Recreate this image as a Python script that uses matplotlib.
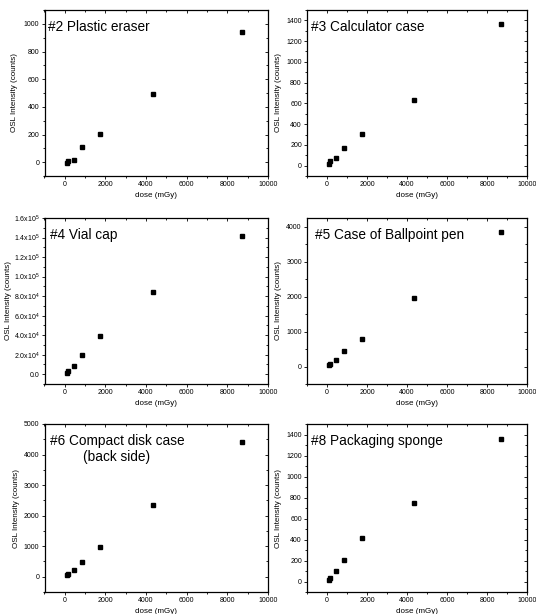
import matplotlib
matplotlib.use("Agg")
import matplotlib.pyplot as plt
from matplotlib.ticker import MultipleLocator, FuncFormatter

plt.rcParams["font.family"] = ["Liberation Sans", "DejaVu Sans"]
plt.rcParams["mathtext.fontset"] = "custom"
plt.rcParams["mathtext.rm"] = "Liberation Sans"
plt.rcParams["mathtext.it"] = "Liberation Sans"

# dose steps (mGy)
dose = [87, 174, 435, 870, 1740, 4350, 8700]

# OSL intensity (counts) for each material
eraser = [-5, 7, 17, 108, 206, 492, 942]
calculator = [16, 45, 75, 171, 303, 634, 1368]
vial_cap = [1000, 3100, 8900, 19500, 39100, 84400, 141300]
ballpoint = [48, 86, 181, 439, 793, 1968, 3849]
cd_case = [55, 77, 210, 498, 985, 2334, 4414]
sponge = [16, 29, 100, 202, 411, 748, 1358]

titles = ["#2 Plastic eraser", "#3 Calculator case", "#4 Vial cap",
          "#5 Case of Ballpoint pen", "#6 Compact disk case\n(back side)",
          "#8 Packaging sponge"]
series = [eraser, calculator, vial_cap, ballpoint, cd_case, sponge]
y_limits = [(-100, 1100), (-100, 1500), (-1e4, 1.6e5),
            (-500, 4250), (-500, 5000), (-100, 1500)]
y_major = [200, 200, 2e4, 1000, 1000, 200]

W, H = 536, 614
fig = plt.figure(figsize=(W / 100, H / 100), dpi=100)

# axes boxes in pixels: (left, top, right, bottom)
cols = [(44.5, 268), (307, 527)]
rows = [(10, 176), (218, 384), (424, 592)]
title_x = [4, 4, 6, 8, 5, 4]
# right edge (pixels) of each rotated y-axis label
ylabel_px = [18.5, 281.5, 12.5, 281.5, 20, 281.5]


def sci_fmt(v, pos):
    if abs(v) < 1e-9:
        return "0.0"
    e = 0
    m = v
    while abs(m) >= 10:
        m /= 10
        e += 1
    return "%.1fx10$^{%d}$" % (m, e)


for i, (vals, title) in enumerate(zip(series, titles)):
    r, c = divmod(i, 2)
    l, rr = cols[c]
    t, b = rows[r]
    ax = fig.add_axes([l / W, 1 - b / H, (rr - l) / W, (b - t) / H])
    ax.plot(dose, vals, linestyle="none", marker="s", ms=2.6,
            color="black", mec="black")
    ax.set_xlim(-1000, 10000)
    ax.set_ylim(*y_limits[i])
    ax.xaxis.set_major_locator(MultipleLocator(2000))
    ax.xaxis.set_minor_locator(MultipleLocator(1000))
    ax.yaxis.set_major_locator(MultipleLocator(y_major[i]))
    ax.yaxis.set_minor_locator(MultipleLocator(y_major[i] / 2))
    if i == 2:
        ax.yaxis.set_major_formatter(FuncFormatter(sci_fmt))
    for s in ax.spines.values():
        s.set_linewidth(0.9)
    ax.tick_params(which="both", labelsize=5, width=0.6, pad=1.2)
    ax.tick_params(which="major", length=2.5)
    ax.tick_params(which="minor", length=1.4)
    ax.tick_params(which="both", top=True, right=True)
    ax.tick_params(axis="x", which="both", direction="out")
    ax.tick_params(axis="y", which="both", direction="out")
    # top and right ticks point inward
    for tk in ax.xaxis.get_major_ticks() + ax.xaxis.get_minor_ticks():
        tk.tick2line.set_marker(3)
    for tk in ax.yaxis.get_major_ticks() + ax.yaxis.get_minor_ticks():
        tk.tick2line.set_marker(0)
    ax.set_xlabel("dose (mGy)", fontsize=5.8, labelpad=2.5)
    ax.set_ylabel("OSL Intensity (counts)", fontsize=5.8)
    ax.yaxis.set_label_coords((ylabel_px[i] - l) / (rr - l), 0.5)
    ax.text(title_x[i] / (rr - l), 1 - 10 / (b - t), title,
            transform=ax.transAxes, ha="left", va="top",
            fontsize=9.8, multialignment="center")

fig.savefig("out.png", dpi=100)
